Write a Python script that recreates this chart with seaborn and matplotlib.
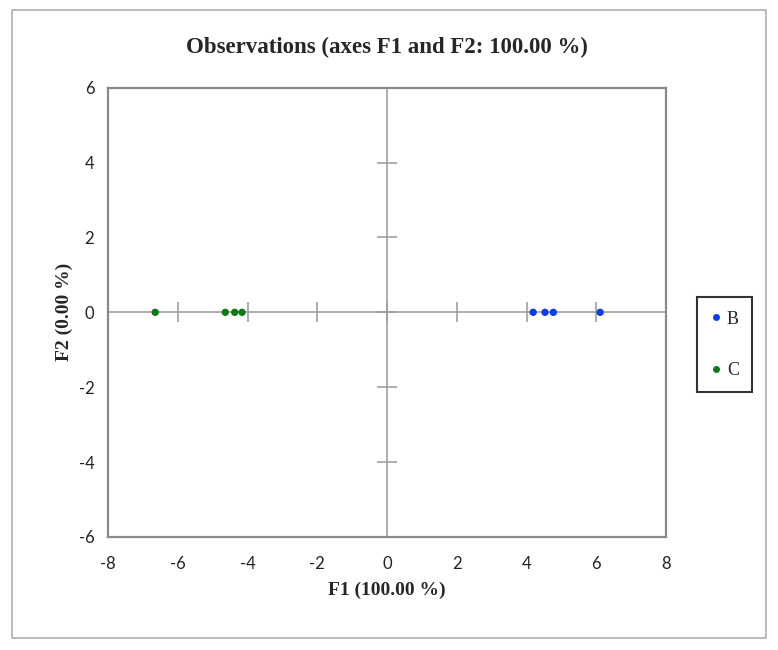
import matplotlib
matplotlib.use("Agg")
import matplotlib.pyplot as plt
import matplotlib.patches as mpatches
import seaborn as sns
import pandas as pd

# Data
groups = ["B", "B", "B", "B", "C", "C", "C", "C"]
f1_values = [4.19, 4.53, 4.77, 6.11, -6.65, -4.64, -4.37, -4.16]
f2_values = [0.0, 0.0, 0.0, 0.0, 0.0, 0.0, 0.0, 0.0]
x_ticks = [-8, -6, -4, -2, 0, 2, 4, 6, 8]
y_ticks = [-6, -4, -2, 0, 2, 4, 6]
palette = {"B": "#0a3cf2", "C": "#0a7a14"}

df = pd.DataFrame({"F1": f1_values, "F2": f2_values, "group": groups})

sns.set_theme(style="white")
plt.rcParams["font.family"] = ["Liberation Serif", "DejaVu Serif"]
plt.rcParams["axes.unicode_minus"] = False

fig = plt.figure(figsize=(7.78, 6.5), dpi=100)
pos = [0.139, 0.174, 0.717, 0.691]
ax = fig.add_axes(pos)

# zero cross-lines with ticks (secondary transparent axes)
ax0 = fig.add_axes(pos, sharex=ax, sharey=ax)
ax0.patch.set_alpha(0)
for s in ["top", "right"]:
    ax0.spines[s].set_visible(False)
for s in ["left", "bottom"]:
    ax0.spines[s].set_position(("data", 0))
    ax0.spines[s].set_color("#a0a0a0")
    ax0.spines[s].set_linewidth(1.2)
ax0.set_xticks([t for t in x_ticks if t not in (0, x_ticks[0], x_ticks[-1])])
ax0.set_yticks([t for t in y_ticks if t not in (0, y_ticks[0], y_ticks[-1])])
ax0.tick_params(direction="inout", length=14, width=1.2, color="#a0a0a0",
                labelbottom=False, labelleft=False, bottom=True, left=True)
ax0.set_zorder(1)

sns.scatterplot(data=df, x="F1", y="F2", hue="group", palette=palette,
                s=28, edgecolor="none", ax=ax, zorder=5, legend=False)
ax.set_zorder(2)
ax.patch.set_alpha(0)

ax.set_xlim(-8, 8)
ax.set_ylim(-6, 6)
ax.set_xticks(x_ticks)
ax.set_yticks(y_ticks)
ax.tick_params(axis="both", labelsize=12, length=0, colors="#222222")
ax.tick_params(axis="x", pad=14)
ax.tick_params(axis="y", pad=10)
for lab in ax.get_xticklabels() + ax.get_yticklabels():
    lab.set_family(["Lato", "DejaVu Sans"])
for s in ax.spines.values():
    s.set_color("#8a8a8a")
    s.set_linewidth(1.6)
ax.set_xlabel("F1 (100.00 %)", fontsize=14, fontweight="bold", labelpad=7)
ax.set_ylabel("F2 (0.00 %)", fontsize=14, fontweight="bold", labelpad=4)
ax.set_title("Observations (axes F1 and F2: 100.00 %)", fontsize=16.5,
             fontweight="bold", pad=25)

handles = [plt.Line2D([], [], marker="o", linestyle="none", markersize=5,
                      markerfacecolor=palette[g], markeredgecolor="none", label=g)
           for g in ["B", "C"]]
leg = ax.legend(handles=handles, loc="upper left", bbox_to_anchor=(0.896, 0.543),
                bbox_transform=fig.transFigure, frameon=True, fontsize=13,
                handletextpad=0.3, handlelength=0.6, labelspacing=1.9,
                borderpad=0.75, fancybox=False, borderaxespad=0)
leg.get_frame().set_edgecolor("black")
leg.get_frame().set_linewidth(1.5)

fig.patches.append(mpatches.Rectangle((0.0154, 0.0185), 0.9692, 0.9665,
                                      transform=fig.transFigure, fill=False,
                                      edgecolor="#b0b0b0", linewidth=1.2))

fig.savefig("out.png", dpi=100)
